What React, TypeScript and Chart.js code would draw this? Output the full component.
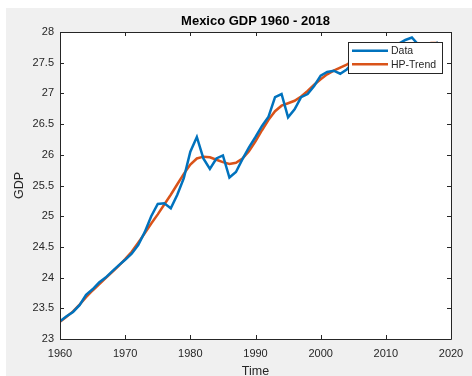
import React, { useEffect, useRef } from "react";
import { Chart, registerables } from "chart.js";

Chart.register(...registerables);

const years = [
  1960, 1961, 1962, 1963, 1964, 1965, 1966, 1967, 1968, 1969,
  1970, 1971, 1972, 1973, 1974, 1975, 1976, 1977, 1978, 1979,
  1980, 1981, 1982, 1983, 1984, 1985, 1986, 1987, 1988, 1989,
  1990, 1991, 1992, 1993, 1994, 1995, 1996, 1997, 1998, 1999,
  2000, 2001, 2002, 2003, 2004, 2005, 2006, 2007, 2008, 2009,
  2010, 2011, 2012, 2013, 2014, 2015, 2016, 2017, 2018,
];

const gdpData = [
  23.29, 23.37, 23.44, 23.55, 23.72, 23.81, 23.92, 24.0, 24.1, 24.2,
  24.29, 24.39, 24.53, 24.74, 25.0, 25.2, 25.21, 25.13, 25.35, 25.62,
  26.05, 26.29, 25.94, 25.77, 25.94, 25.99, 25.63, 25.72, 25.93, 26.12,
  26.29, 26.47, 26.62, 26.94, 26.99, 26.61, 26.74, 26.94, 26.99, 27.12,
  27.29, 27.35, 27.37, 27.32, 27.39, 27.5, 27.61, 27.68, 27.74, 27.53,
  27.69, 27.8, 27.81, 27.87, 27.91, 27.79, 27.71, 27.78, 27.83,
];

const hpTrend = [
  23.28, 23.36, 23.45, 23.56, 23.68, 23.79, 23.89, 23.99, 24.09, 24.19,
  24.3, 24.42, 24.57, 24.72, 24.88, 25.03, 25.19, 25.35, 25.52, 25.69,
  25.84, 25.94, 25.97, 25.96, 25.92, 25.88, 25.85, 25.87, 25.94, 26.06,
  26.22, 26.4, 26.57, 26.71, 26.8, 26.84, 26.88, 26.95, 27.04, 27.14,
  27.23, 27.31, 27.37, 27.42, 27.47, 27.53, 27.58, 27.63, 27.67, 27.7,
  27.73, 27.76, 27.78, 27.8, 27.81, 27.81, 27.81, 27.82, 27.82,
];

const xTicks = [1960, 1970, 1980, 1990, 2000, 2010, 2020];
const yTicks = [23, 23.5, 24, 24.5, 25, 25.5, 26, 26.5, 27, 27.5, 28];

const titleText = "Mexico GDP 1960 - 2018";
const xLabel = "Time";
const yLabel = "GDP";
const seriesNames = ["Data", "HP-Trend"];
const seriesColors = ["#0072BD", "#D95319"];

const FONT = '"Liberation Sans", Arial, Helvetica, sans-serif';
const AXIS_COLOR = "#262626";

const matlabPlugin = {
  id: "matlabDecor",
  afterDatasetsDraw(chart: any) {
    const { ctx, chartArea } = chart;
    const { left, right, top, bottom } = chartArea;
    const xs = chart.scales.x;
    const ys = chart.scales.y;
    ctx.save();
    // box
    ctx.strokeStyle = AXIS_COLOR;
    ctx.lineWidth = 1;
    ctx.beginPath();
    ctx.rect(Math.round(left) + 0.5, Math.round(top) + 0.5, Math.round(right - left), Math.round(bottom - top));
    ctx.stroke();
    // inward ticks
    const tl = 4;
    ctx.beginPath();
    xTicks.forEach((t) => {
      const px = Math.round(xs.getPixelForValue(t)) + 0.5;
      ctx.moveTo(px, bottom);
      ctx.lineTo(px, bottom - tl);
      ctx.moveTo(px, top);
      ctx.lineTo(px, top + tl);
    });
    yTicks.forEach((t) => {
      const py = Math.round(ys.getPixelForValue(t)) + 0.5;
      ctx.moveTo(left, py);
      ctx.lineTo(left + tl, py);
      ctx.moveTo(right, py);
      ctx.lineTo(right - tl, py);
    });
    ctx.stroke();

    // legend
    const lx = 342, ly = 34, lw = 94, lh = 31;
    ctx.fillStyle = "#ffffff";
    ctx.fillRect(lx, ly, lw, lh);
    ctx.strokeStyle = "#262626";
    ctx.lineWidth = 1;
    ctx.strokeRect(lx + 0.5, ly + 0.5, lw, lh);
    ctx.font = `10.5px ${FONT}`;
    ctx.textBaseline = "middle";
    ctx.textAlign = "left";
    const rows = [42.7, 56.3];
    seriesNames.forEach((name, i) => {
      ctx.strokeStyle = seriesColors[i];
      ctx.lineWidth = 2.5;
      ctx.beginPath();
      ctx.moveTo(346, rows[i]);
      ctx.lineTo(382, rows[i]);
      ctx.stroke();
      ctx.fillStyle = AXIS_COLOR;
      ctx.fillText(name, 385, rows[i] + 0.5);
    });

    // title
    ctx.fillStyle = "#000000";
    ctx.font = `bold 13px ${FONT}`;
    ctx.textAlign = "center";
    ctx.textBaseline = "middle";
    ctx.fillText(titleText, (left + right) / 2, 13);

    // axis labels
    ctx.fillStyle = AXIS_COLOR;
    ctx.font = `12.5px ${FONT}`;
    ctx.fillText(xLabel, (left + right) / 2, 363.5);
    ctx.save();
    ctx.translate(14, (top + bottom) / 2);
    ctx.rotate(-Math.PI / 2);
    ctx.fillText(yLabel, 0, 0);
    ctx.restore();
    ctx.restore();
  },
};

export default function App() {
  const canvasRef = useRef<HTMLCanvasElement | null>(null);

  useEffect(() => {
    if (!canvasRef.current) return;
    const chart = new Chart(canvasRef.current, {
      type: "line",
      data: {
        datasets: [
          {
            label: seriesNames[0],
            data: years.map((y, i) => ({ x: y, y: gdpData[i] })),
            borderColor: seriesColors[0],
            borderWidth: 2.5,
            pointRadius: 0,
            tension: 0,
          },
          {
            label: seriesNames[1],
            data: years.map((y, i) => ({ x: y, y: hpTrend[i] })),
            borderColor: seriesColors[1],
            borderWidth: 2.5,
            pointRadius: 0,
            tension: 0,
          },
        ],
      },
      options: {
        responsive: false,
        animation: false,
        devicePixelRatio: 1,
        layout: { padding: { left: 0, right: 21, top: 24, bottom: 0 } },
        plugins: {
          legend: { display: false },
          title: { display: false },
          tooltip: { enabled: false },
        },
        scales: {
          x: {
            type: "linear",
            min: 1960,
            max: 2020,
            afterBuildTicks: (scale: any) => {
              scale.ticks = xTicks.map((v) => ({ value: v }));
            },
            afterFit: (scale: any) => {
              scale.height = 37;
            },
            grid: { display: false, drawTicks: false },
            border: { display: false },
            ticks: {
              padding: 8,
              color: AXIS_COLOR,
              font: { family: FONT, size: 11 },
              maxRotation: 0,
              callback: (v: any) => String(v),
            },
          },
          y: {
            type: "linear",
            min: 23,
            max: 28,
            afterBuildTicks: (scale: any) => {
              scale.ticks = yTicks.map((v) => ({ value: v }));
            },
            afterFit: (scale: any) => {
              scale.width = 54;
            },
            grid: { display: false, drawTicks: false },
            border: { display: false },
            ticks: {
              padding: 6,
              color: AXIS_COLOR,
              font: { family: FONT, size: 11 },
              callback: (v: any) => String(v),
            },
          },
        },
      },
      plugins: [
        {
          id: "whiteArea",
          beforeDatasetsDraw(chart: any) {
            const { ctx, chartArea } = chart;
            ctx.save();
            ctx.fillStyle = "#ffffff";
            ctx.fillRect(chartArea.left, chartArea.top, chartArea.right - chartArea.left, chartArea.bottom - chartArea.top);
            ctx.restore();
          },
        },
        matlabPlugin,
      ],
    } as any);
    return () => chart.destroy();
  }, []);

  return (
    <div
      style={{
        position: "fixed",
        left: 6,
        top: 8,
        width: 466,
        height: 368,
        background: "#f0f0f0",
      }}
    >
      <canvas ref={canvasRef} width={466} height={368} style={{ display: "block", width: 466, height: 368 }} />
    </div>
  );
}
